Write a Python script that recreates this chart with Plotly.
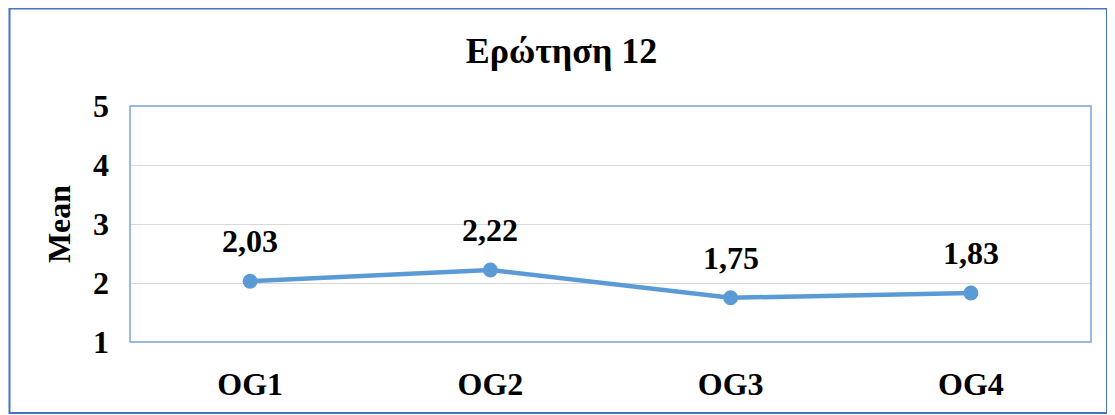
import plotly.graph_objects as go

categories = ["OG1", "OG2", "OG3", "OG4"]
means = [2.03, 2.22, 1.75, 1.83]
labels = ["2,03", "2,22", "1,75", "1,83"]
y_ticks = [1, 2, 3, 4, 5]

# page has an 8px body margin, so the figure is sized to fill the rest
W, H = 1107, 407
L, R, T, B = 122, 24, 98, 73
pw, ph = W - L - R, H - T - B

def px(x):
    return (x - L) / pw

def py(y):
    return (H - B - y) / ph

font = "Liberation Serif, Times New Roman, serif"

fig = go.Figure()
fig.add_trace(go.Scatter(
    x=categories, y=means, mode="lines+markers",
    line=dict(color="#5B9BD5", width=4.5),
    marker=dict(color="#5B9BD5", size=15),
    cliponaxis=False,
))

for c, v, t in zip(categories, means, labels):
    fig.add_annotation(x=c, y=v, text=f"<b>{t}</b>", showarrow=False,
                       yshift=40, yanchor="middle",
                       font=dict(family=font, size=32, color="black"))

fig.update_layout(
    width=W, height=H,
    margin=dict(l=L, r=R, t=T, b=B),
    paper_bgcolor="white", plot_bgcolor="white",
    showlegend=False,
    title=dict(text="<b>Ερώτηση 12</b>", x=0.5, xanchor="center",
               y=1 - 42 / H, yanchor="middle",
               font=dict(family=font, size=36, color="black")),
    xaxis=dict(range=[-0.5, 3.5], showgrid=False, zeroline=False,
               tickfont=dict(family=font, size=32, color="black", weight="bold"),
               ticklabelstandoff=20, showline=False),
    yaxis=dict(range=[1, 5], tickvals=y_ticks, showgrid=True, gridcolor="#D9D9D9",
               gridwidth=1, zeroline=False, showline=False,
               tickfont=dict(family=font, size=32, color="black", weight="bold"),
               ticklabelstandoff=20,
               title=dict(text="<b>Mean</b>", standoff=12,
                          font=dict(family=font, size=32, color="black"))),
)

# plot area border
fig.add_shape(type="rect", xref="paper", yref="paper", x0=0, x1=1, y0=0, y1=1,
              line=dict(color="#7EA1DA", width=1.5), layer="above")
# outer chart border
fig.add_shape(type="rect", xref="paper", yref="paper",
              x0=px(1.5), x1=px(1099), y0=py(405), y1=py(0.5),
              line=dict(color="#4472C4", width=2))

fig.write_html("out.html")
